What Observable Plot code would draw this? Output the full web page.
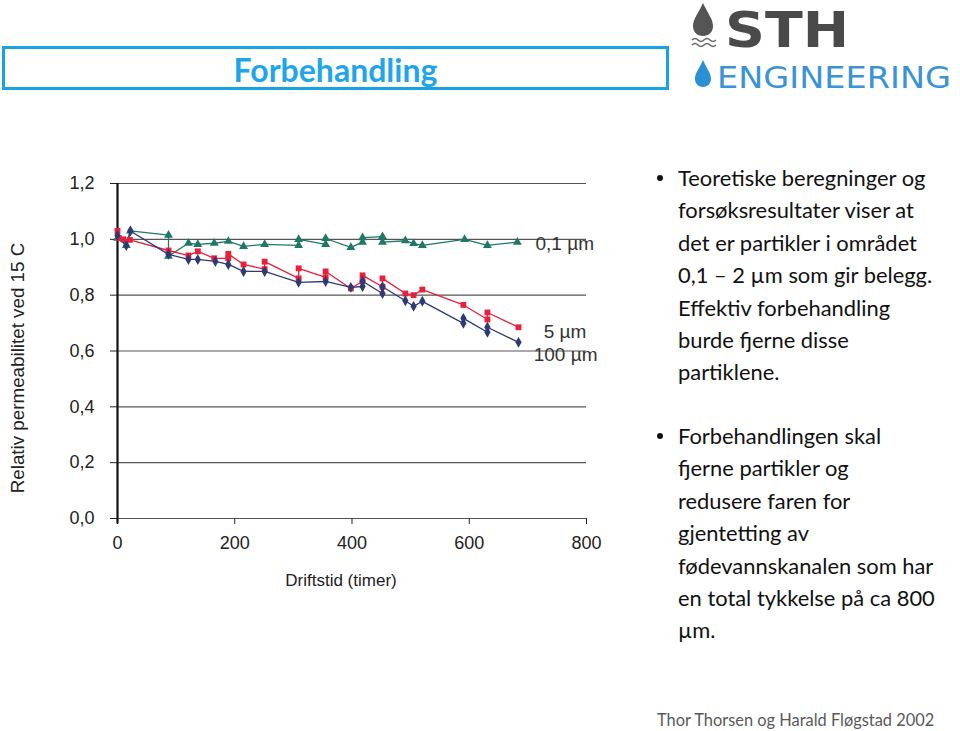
<!DOCTYPE html>
<html><head><meta charset="utf-8">
<script src="https://cdn.jsdelivr.net/npm/d3@7"></script>
<script src="https://cdn.jsdelivr.net/npm/@observablehq/plot@0.6"></script>
<style>
html,body{margin:0;padding:0;background:#fff}
body{width:960px;height:731px;overflow:hidden;position:relative;font-family:Lato,"Open Sans",sans-serif}
#titlebox{position:absolute;left:2px;top:46px;width:661px;height:38px;border:3px solid #17a2e4;display:flex;align-items:center;justify-content:center;box-sizing:content-box}
#titlebox h1{margin:0;font:bold 32px Lato,"Open Sans",sans-serif;color:#1ea5ea;position:relative;left:0px;top:1px}
#logo{position:absolute;left:686px;top:0px}
#chart{position:absolute;left:0;top:160px}
.bul{position:absolute;left:678px;font-size:21.9px;line-height:32.4px;color:#111;margin:0;white-space:nowrap}
.bul::before{content:"";position:absolute;left:-21px;top:13px;width:6px;height:6px;border-radius:50%;background:#111}
#b1{top:162px}
#b2{top:420px}
#footer{position:absolute;left:657px;top:710px;font-size:16.4px;color:#595959}
</style></head>
<body>
<div id="titlebox"><h1>Forbehandling</h1></div>
<svg id="logo" width="274" height="96" viewBox="0 0 274 96">
  <path d="M17 3 C12 14 7 19 7 26 C7 32 11 36 17 36 C23 36 27 32 27 26 C27 19 22 14 17 3 Z" fill="#555"/>
  <path d="M6 40 q3 -3 6 0 t6 0 t6 0 t6 0" fill="none" stroke="#666" stroke-width="1.6"/>
  <path d="M6 45 q3 -3 6 0 t6 0 t6 0 t6 0" fill="none" stroke="#666" stroke-width="1.6"/>
  <path d="M17 60 C13 69 9 73 9 79 C9 84 13 87 17 87 C21 87 25 84 25 79 C25 73 21 69 17 60 Z" fill="#2a8fd4"/>
  <text x="39" y="47" font-family="'DejaVu Sans',sans-serif" font-weight="bold" font-size="50" fill="#4a4a4a" textLength="124" lengthAdjust="spacingAndGlyphs">STH</text>
  <text x="31" y="88" font-family="'DejaVu Sans',sans-serif" font-size="30" fill="#3a93d6" textLength="234" lengthAdjust="spacingAndGlyphs">ENGINEERING</text>
</svg>
<div id="chart"></div>
<p class="bul" id="b1">Teoretiske beregninger og<br>forsøksresultater viser at<br>det er partikler i området<br>0,1 – 2 µm som gir belegg.<br>Effektiv forbehandling<br>burde fjerne disse<br>partiklene.</p>
<p class="bul" id="b2">Forbehandlingen skal<br>fjerne partikler og<br>redusere faren for<br>gjentetting av<br>fødevannskanalen som har<br>en total tykkelse på ca 800<br>µm.</p>
<div id="footer">Thor Thorsen og Harald Fløgstad 2002</div>
<script>
// Series names and colours
const seriesNames = ["0,1 µm", "5 µm", "100 µm"];
const seriesColors = ["#1e7868", "#e8203c", "#2e3a74"];
const seriesSymbols = ["triangle", "square", "diamond"];

// 0,1 µm (green triangles)
const t01 = [0, 15, 22, 87, 87, 121, 137, 165, 189, 215, 251, 309, 309, 355, 355, 398, 418, 418, 452, 452, 491, 505, 520, 592, 631, 682];
const v01 = [1.004, 0.978, 1.03, 1.015, 0.94, 0.986, 0.982, 0.986, 0.993, 0.975, 0.982, 0.978, 1.0, 0.982, 1.003, 0.971, 0.99, 1.006, 1.01, 0.99, 0.995, 0.985, 0.978, 1.0, 0.978, 0.99];

// 5 µm (red squares)
const t5 = [0, 2, 10, 21, 87, 121, 137, 165, 189, 189, 215, 251, 251, 309, 309, 355, 355, 398, 418, 418, 452, 452, 491, 505, 520, 590, 631, 631, 684];
const v5 = [1.03, 1.005, 1.0, 0.998, 0.96, 0.942, 0.957, 0.932, 0.932, 0.948, 0.91, 0.893, 0.92, 0.86, 0.896, 0.864, 0.885, 0.824, 0.85, 0.871, 0.83, 0.86, 0.806, 0.80, 0.82, 0.765, 0.713, 0.738, 0.685];

// 100 µm (blue diamonds)
const t100 = [0, 15, 22, 87, 121, 137, 167, 189, 215, 251, 309, 355, 398, 418, 418, 452, 452, 491, 505, 520, 590, 590, 631, 631, 684];
const v100 = [1.014, 0.978, 1.03, 0.946, 0.928, 0.928, 0.921, 0.91, 0.885, 0.885, 0.846, 0.849, 0.828, 0.831, 0.85, 0.806, 0.83, 0.78, 0.76, 0.778, 0.699, 0.717, 0.667, 0.685, 0.631];

// Series label positions (data coords)
const labelX = [713, 727, 710];
const labelY = [0.985, 0.67, 0.585];

// Ticks and axis titles
const xTicks = [0, 200, 400, 600, 800];
const yTicks = [0, 0.2, 0.4, 0.6, 0.8, 1.0, 1.2];
const xTitle = "Driftstid (timer)";
const yTitle = "Relativ permeabilitet ved 15 C";

const data = [];
[[t01, v01], [t5, v5], [t100, v100]].forEach(([ts, vs], i) => {
  ts.forEach((t, j) => data.push({s: seriesNames[i], t, v: vs[j]}));
});
const labels = seriesNames.map((s, i) => ({s, x: labelX[i], y: labelY[i]}));
const fmt = d => d.toFixed(1).replace(".", ",");

const chart = Plot.plot({
  width: 620, height: 440,
  marginTop: 23, marginBottom: 82, marginLeft: 117, marginRight: 34,
  style: {fontFamily: "'Liberation Sans', Arial, sans-serif", fontSize: "18px", color: "#222", background: "transparent", overflow: "visible"},
  x: {domain: [0, 800]},
  y: {domain: [0, 1.2]},
  color: {domain: seriesNames, range: seriesColors},
  symbol: {domain: seriesNames, range: seriesSymbols},
  marks: [
    Plot.gridY(yTicks, {stroke: "#555", strokeOpacity: 1, strokeWidth: 1.2}),
    Plot.axisX(xTicks, {tickSize: 6, tickPadding: 12, label: null, fontSize: 18}),
    Plot.axisY(yTicks, {tickSize: 7, tickPadding: 16, tickFormat: fmt, label: null, fontSize: 18}),
    Plot.text([xTitle], {frameAnchor: "bottom", dx: -11, dy: 62, lineAnchor: "middle", fontSize: 17, fill: "#222"}),
    Plot.text([yTitle], {frameAnchor: "left", textAnchor: "middle", rotate: -90, dx: -100, dy: 17, lineAnchor: "middle", fontSize: 18.8, fill: "#222"}),
    Plot.ruleX([0], {y1: -0.02, y2: 1.2, stroke: "#111", strokeWidth: 2.2}),
    Plot.line(data, {x: "t", y: "v", z: "s", stroke: "s", strokeWidth: 1.3}),
    Plot.dot(data, {x: "t", y: "v", fill: "s", symbol: "s", r: 3.3, stroke: null}),
    Plot.text(labels, {x: "x", y: "y", text: "s", textAnchor: "start", fontSize: 19, fill: "#333"})
  ]
});
document.getElementById("chart").appendChild(chart);
</script>
</body></html>
